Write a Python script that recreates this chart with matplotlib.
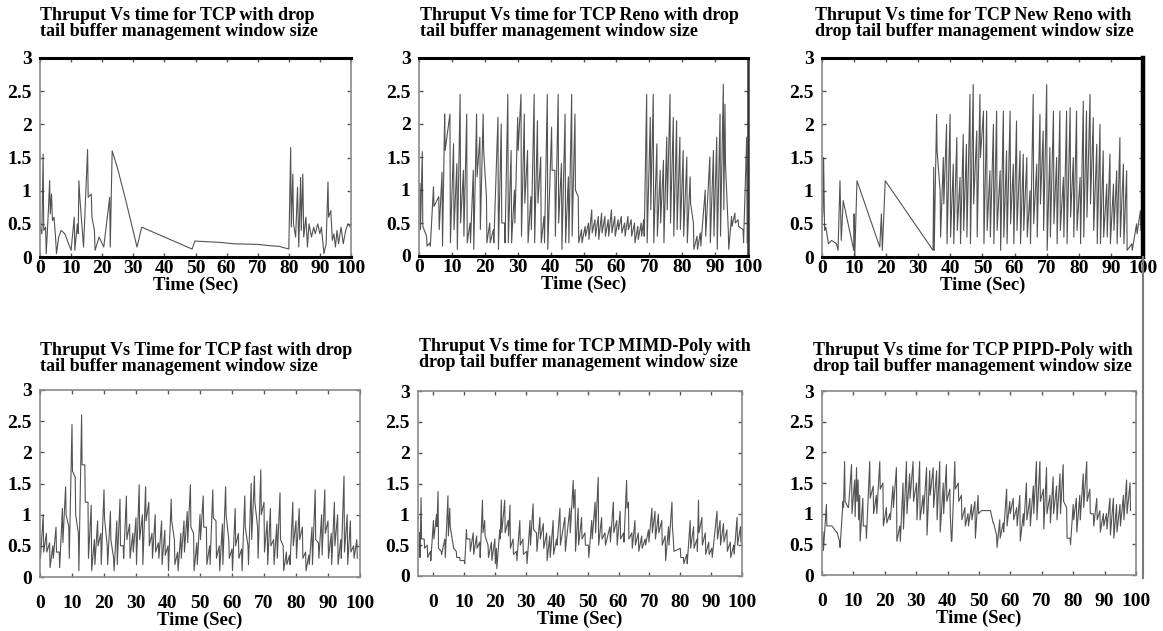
"""
Thruput vs time for six TCP variants with drop tail buffer management.

Six small line panels (2 x 3), values read off the reference figure.
"""

import matplotlib
matplotlib.use("Agg")
import matplotlib.pyplot as plt
import numpy as np
from matplotlib.lines import Line2D

W, H = 1163, 631

# ---------------------------------------------------------------- data
# TCP: sparse trace, written point by point
tcp_t = [0, 0.6, 1.0, 1.2, 1.8, 2.0, 2.6, 3.1, 3.3, 3.7, 4.0, 4.5, 5.0, 5.3, 6.0, 6.8,
         8.0, 10.0, 11.0, 11.2, 12.0, 12.3, 12.5, 12.8, 14.0, 15.3, 15.5, 16.5, 16.7,
         17.5, 17.7, 19.0, 20.5, 22.4, 22.6, 23.2, 24.8, 27.5, 31.2, 32.7, 48.9, 49.8,
         58.0, 62.0, 70.0, 74.0, 77.0, 80.0, 80.6, 80.8, 81.3, 81.5, 82.2, 82.8, 83.2,
         83.8, 84.0, 84.5, 84.8, 85.5, 86.0, 86.5, 87.3, 88.0, 88.5, 89.3, 90.0, 90.5,
         91.3, 92.0, 92.6, 92.8, 93.5, 94.0, 94.5, 95.0, 95.5, 96.0, 96.8, 97.5, 98.3,
         99.0, 99.8]
tcp_y = [0.45, 0.35, 1.55, 0.4, 0.45, 0.05, 0.6, 1.15, 0.65, 0.95, 0.55, 0.6, 0.3, 0.05,
         0.3, 0.4, 0.35, 0.1, 0.6, 0.1, 0.5, 0.35, 1.15, 0.9, 0.15, 1.62, 0.9, 0.95, 0.6,
         0.4, 0.1, 0.3, 0.15, 0.9, 0.15, 1.6, 1.36, 0.87, 0.15, 0.45, 0.12, 0.24, 0.22,
         0.2, 0.19, 0.17, 0.16, 0.12, 1.65, 0.45, 1.25, 0.5, 0.3, 1.05, 0.15, 1.2, 0.4,
         1.25, 0.3, 0.6, 0.15, 0.5, 0.3, 0.45, 0.35, 0.5, 0.35, 0.45, 0.05, 0.2, 1.13,
         0.6, 0.7, 0.25, 0.35, 0.15, 0.4, 0.2, 0.45, 0.2, 0.4, 0.5, 0.45]

# TCP Reno: spikes (time, peak, trough)
reno_t = [0.3, 1.0, 2.3, 3.3, 4.4, 6.0, 7.0, 7.8, 9.4, 10.5,
          11.5, 12.5, 13.5, 14.5, 15.5, 16.5, 17.5, 18.5, 19.5, 20.5,
          21.5, 22.6, 24.0, 25.0, 26.0, 27.0, 28.0, 29.0, 30.0, 31.0,
          32.0, 33.0, 34.0, 35.0, 36.0, 37.0, 38.0, 39.0, 40.3, 41.3,
          42.3, 43.3, 44.4, 45.4, 46.4, 47.4, 48.4, 49.4, 50.5, 51.5,
          52.5, 53.5, 54.5, 55.5, 56.5, 57.5, 58.5, 59.5, 60.5, 61.5,
          62.5, 63.5, 64.5, 65.5, 66.5, 67.5, 68.3, 69.2, 70.3, 71.2,
          72.3, 73.3, 74.3, 75.3, 76.3, 77.3, 78.3, 79.3, 80.3, 81.4,
          82.4, 83.4, 84.5, 85.5, 87.0, 88.4, 89.5, 90.5, 91.5, 92.5,
          93.0, 94.0, 95.0, 96.0, 97.0, 98.5, 99.6]
reno_hi = [1.1, 1.58, 0.3, 0.2, 1.05, 0.9, 1.27, 2.15, 2.15, 1.7,
           1.4, 2.45, 1.3, 2.15, 0.5, 1.3, 2.15, 1.8, 2.15, 0.9,
           0.5, 0.4, 2.1, 2.0, 0.5, 2.45, 1.6, 1.0, 2.1, 2.45,
           2.15, 1.6, 0.9, 2.45, 2.05, 1.5, 0.6, 2.45, 1.95, 1.3,
           2.45, 1.4, 2.15, 1.2, 2.45, 2.15, 0.9, 0.4, 0.45, 0.5,
           0.7, 0.55, 0.6, 0.65, 0.6, 0.55, 0.7, 0.6, 0.55, 0.6,
           0.5, 0.6, 0.55, 0.5, 0.45, 0.5, 0.55, 2.45, 2.1, 2.45,
           1.7, 1.3, 1.45, 1.8, 2.45, 2.1, 2.05, 1.8, 1.6, 1.5,
           1.2, 0.5, 0.3, 0.35, 1.0, 1.5, 1.6, 1.8, 2.15, 2.6,
           2.3, 0.4, 0.6, 0.65, 0.55, 0.4, 1.8]
reno_lo = [0.4, 0.45, 0.15, 0.15, 0.75, 0.4, 0.15, 1.6, 0.2, 0.4,
           0.1, 0.5, 0.3, 0.2, 0.2, 0.1, 1.2, 0.4, 1.6, 0.2,
           0.2, 0.2, 0.1, 0.5, 0.2, 0.2, 0.2, 0.5, 1.6, 0.3,
           0.8, 0.2, 0.4, 0.2, 0.8, 0.2, 0.2, 0.1, 1.3, 0.3,
           0.5, 0.1, 0.2, 0.2, 0.3, 1.0, 0.2, 0.2, 0.3, 0.25,
           0.35, 0.3, 0.25, 0.35, 0.3, 0.3, 0.35, 0.3, 0.4, 0.35,
           0.3, 0.4, 0.3, 0.2, 0.25, 0.3, 0.3, 0.2, 0.7, 0.2,
           0.3, 0.5, 0.2, 0.7, 0.5, 0.3, 0.4, 0.4, 0.3, 0.2,
           0.8, 0.1, 0.1, 0.15, 0.3, 0.2, 0.3, 0.1, 0.3, 0.7,
           1.4, 0.1, 0.45, 0.5, 0.45, 0.2, 0.2]

# TCP New Reno: slow start part point by point, then spikes
newreno_head_t = [0, 0.3, 0.5, 0.8, 1.2, 2.0, 3.0, 4.5, 5.0, 5.6, 6.0, 6.6, 9.0, 9.9,
                  10.0, 10.2, 10.9, 18.0, 18.5, 18.8, 19.7, 34.6]
newreno_head_y = [0.5, 0.7, 1.5, 0.4, 0.45, 0.2, 0.25, 0.2, 0.1, 1.15, 0.25, 0.85, 0.3,
                  0.1, 0.65, 0.0, 1.15, 0.15, 0.65, 0.1, 1.15, 0.1]
newreno_t = [34.8, 35.7, 36.8, 37.8, 38.8, 39.9, 40.9, 42.0, 43.0, 44.0,
             45.0, 46.1, 47.1, 48.2, 49.2, 50.3, 51.3, 52.3, 53.4, 54.4,
             55.5, 56.5, 57.5, 58.6, 59.6, 60.6, 61.7, 62.7, 63.8, 64.8,
             65.8, 66.9, 67.9, 68.9, 70.0, 71.0, 72.1, 73.1, 74.1, 75.2,
             76.2, 77.3, 78.3, 79.3, 80.4, 81.4, 82.4, 83.5, 84.5, 85.6,
             86.6, 87.6, 88.7, 89.7, 90.8, 91.8, 92.8, 93.9, 94.9, 96.5,
             98.0, 99.2]
newreno_hi = [1.35, 2.15, 1.0, 1.5, 2.0, 2.15, 1.4, 1.8, 1.2, 1.85,
              1.7, 2.45, 2.6, 1.9, 2.45, 2.2, 2.2, 1.3, 2.0, 2.2,
              1.3, 2.2, 1.6, 2.2, 1.4, 2.05, 1.6, 1.55, 1.5, 1.0,
              2.45, 1.4, 2.15, 1.9, 2.6, 1.65, 2.2, 1.5, 2.2, 1.2,
              2.2, 2.25, 1.5, 2.2, 1.2, 2.35, 2.2, 2.45, 2.1, 1.7,
              2.0, 1.6, 1.1, 1.55, 1.1, 1.3, 1.8, 1.4, 1.3, 0.2,
              0.5, 0.7]
newreno_lo = [0.1, 1.6, 0.3, 0.8, 0.2, 0.3, 0.2, 0.4, 0.2, 0.4,
              0.3, 0.2, 0.8, 0.3, 1.5, 0.2, 0.4, 0.3, 0.2, 0.4,
              0.1, 0.3, 0.2, 0.5, 0.2, 0.4, 0.2, 0.4, 0.3, 0.2,
              0.5, 0.3, 0.8, 0.4, 0.1, 0.3, 0.5, 0.2, 0.4, 0.3,
              0.2, 0.6, 0.3, 0.4, 0.2, 0.3, 0.6, 0.8, 0.4, 0.2,
              0.2, 0.3, 0.3, 0.2, 0.4, 0.2, 0.3, 0.2, 0.1, 0.1,
              0.35, 0.4]

# TCP fast
fast_t = [0, 1, 2, 3, 4, 5, 6, 7, 8, 9, 10, 11, 12, 13, 14, 15, 16, 17, 18, 19,
          20, 21, 22, 23, 24, 25, 26, 27, 28, 29, 30, 31, 32, 33, 34, 35, 36, 37, 38, 39,
          40, 41, 42, 43, 44, 45, 46, 47, 48, 49, 50, 51, 52, 53, 54, 55, 56, 57, 58, 59,
          60, 61, 62, 63, 64, 65, 66, 67, 68, 69, 70, 71, 72, 73, 74, 75, 76, 77, 78, 79,
          80, 81, 82, 83, 84, 85, 86, 87, 88, 89, 90, 91, 92, 93, 94, 95, 96, 97, 98, 99]
fast_hi = [0.55, 1.0, 0.7, 0.55, 0.5, 0.8, 0.4, 1.1, 1.45, 0.8,
           2.45, 1.6, 0.7, 2.6, 1.8, 1.2, 1.15, 0.6, 0.9, 0.7,
           1.4, 0.5, 1.05, 0.3, 0.9, 1.25, 0.5, 1.3, 0.85, 0.7,
           0.95, 1.48, 1.0, 1.45, 1.2, 0.7, 1.0, 0.55, 0.9, 0.75,
           0.5, 1.25, 0.6, 0.4, 0.7, 0.9, 1.05, 1.48, 0.7, 0.55,
           1.0, 1.3, 0.8, 0.5, 1.4, 0.9, 0.5, 0.85, 1.45, 0.6,
           0.45, 1.1, 0.7, 0.45, 1.3, 0.5, 1.5, 1.62, 0.8, 1.72,
           1.2, 0.9, 1.1, 0.6, 0.85, 1.35, 0.5, 0.4, 0.35, 1.2,
           0.9, 1.1, 0.8, 0.4, 0.35, 0.8, 1.4, 0.55, 1.0, 1.4,
           0.9, 0.7, 1.2, 1.0, 0.6, 1.62, 1.0, 0.9, 0.5, 0.6]
fast_lo = [0.3, 0.4, 0.4, 0.15, 0.3, 0.4, 0.15, 0.55, 1.0, 0.3,
           1.7, 1.0, 0.1, 1.8, 1.2, 0.3, 0.1, 0.2, 0.5, 0.2,
           0.95, 0.2, 0.6, 0.1, 0.2, 0.5, 0.3, 0.6, 0.3, 0.4,
           0.2, 0.6, 0.2, 0.9, 0.5, 0.3, 0.4, 0.3, 0.2, 0.35,
           0.1, 0.9, 0.2, 0.1, 0.3, 0.4, 0.55, 0.8, 0.1, 0.2,
           0.6, 0.8, 0.2, 0.2, 0.95, 0.3, 0.1, 0.2, 1.0, 0.3,
           0.1, 0.5, 0.3, 0.1, 0.8, 0.2, 0.6, 1.2, 0.3, 1.0,
           0.4, 0.2, 0.5, 0.2, 0.3, 0.6, 0.1, 0.2, 0.2, 0.5,
           0.3, 0.6, 0.3, 0.1, 0.2, 0.2, 0.6, 0.3, 0.35, 0.7,
           0.3, 0.2, 0.5, 0.2, 0.3, 0.4, 0.2, 0.4, 0.3, 0.3]

# TCP MIMD-Poly
mimd_t = [-4.5, -4.0, -3.0, -2.0, -1.0, 0.0, 1.0, 1.5, 2.5, 3.7,
          4.7, 5.3, 6.4, 7.4, 8.5, 10.0, 10.7, 11.8, 12.9, 14.0,
          15.0, 15.9, 16.6, 17.7, 18.8, 19.9, 20.4, 21.5, 22.0, 23.1,
          24.2, 24.8, 25.8, 26.9, 28.0, 29.0, 30.2, 31.3, 32.3, 33.4,
          34.5, 35.6, 36.7, 37.7, 38.8, 39.9, 41.0, 42.6, 44.2, 45.3,
          45.9, 46.9, 48.0, 49.1, 50.2, 51.3, 52.4, 53.4, 54.5, 55.6,
          57.2, 58.3, 59.4, 60.5, 61.6, 62.6, 63.2, 64.3, 65.3, 66.4,
          67.5, 68.6, 69.7, 70.8, 71.8, 72.9, 74.0, 75.1, 76.2, 77.3,
          77.8, 80.0, 81.0, 82.1, 83.2, 84.3, 85.4, 85.9, 87.0, 88.1,
          89.2, 90.2, 91.9, 92.9, 94.0, 95.1, 96.2, 97.3, 98.4, 99.5]
mimd_hi = [0.7, 1.27, 0.6, 0.5, 0.4, 0.9, 1.0, 1.37, 0.4, 0.6,
           1.3, 1.1, 0.5, 0.4, 0.3, 0.25, 0.75, 0.6, 0.7, 0.65,
           0.55, 1.23, 0.9, 0.5, 0.55, 0.6, 0.45, 0.75, 1.23, 1.23,
           0.9, 1.15, 0.6, 0.4, 0.9, 0.6, 0.4, 0.9, 1.17, 0.7,
           0.95, 0.85, 0.7, 0.65, 0.9, 0.6, 1.1, 0.95, 1.1, 1.55,
           1.4, 1.1, 0.95, 0.7, 0.5, 0.9, 1.2, 1.6, 0.95, 0.7,
           0.8, 1.2, 0.9, 1.05, 0.7, 1.55, 1.2, 0.7, 0.9, 0.7,
           0.65, 0.6, 0.75, 1.1, 1.05, 1.0, 0.9, 0.65, 0.8, 1.2,
           0.55, 0.45, 0.3, 0.35, 0.9, 0.8, 0.6, 1.23, 0.95, 0.7,
           0.55, 0.45, 1.05, 0.9, 0.85, 0.75, 0.55, 0.5, 0.95, 0.8]
mimd_lo = [0.3, 0.6, 0.45, 0.3, 0.25, 0.6, 0.8, 0.45, 0.35, 0.3,
           0.65, 0.8, 0.45, 0.3, 0.25, 0.2, 0.6, 0.4, 0.35, 0.45,
           0.3, 0.7, 0.65, 0.3, 0.25, 0.2, 0.12, 0.6, 0.7, 0.7,
           0.65, 0.45, 0.35, 0.25, 0.5, 0.35, 0.2, 0.5, 0.75, 0.4,
           0.6, 0.45, 0.25, 0.3, 0.35, 0.5, 0.5, 0.4, 0.7, 1.1,
           0.4, 0.5, 0.6, 0.5, 0.3, 0.6, 0.7, 0.5, 0.6, 0.5,
           0.55, 0.7, 0.5, 0.6, 0.55, 1.1, 0.6, 0.45, 0.5, 0.4,
           0.45, 0.5, 0.55, 0.7, 0.6, 0.7, 0.5, 0.25, 0.5, 0.8,
           0.4, 0.3, 0.2, 0.2, 0.45, 0.45, 0.4, 0.7, 0.5, 0.35,
           0.35, 0.3, 0.6, 0.5, 0.55, 0.4, 0.3, 0.35, 0.5, 0.55]

# TCP PIPD-Poly
pipd_t = [0.3, 1.4, 2.0, 3.0, 4.6, 5.6, 6.7, 7.2, 8.3, 9.4,
          10.4, 11.0, 11.5, 12.0, 13.0, 14.0, 15.2, 16.3, 17.3, 18.4,
          19.4, 20.5, 21.6, 22.6, 23.7, 24.8, 25.8, 26.9, 27.9, 29.0,
          30.1, 31.1, 32.2, 33.3, 34.3, 35.4, 36.5, 37.5, 38.6, 39.6,
          40.7, 41.2, 42.3, 43.4, 44.4, 45.5, 46.5, 47.6, 48.7, 49.7,
          50.8, 53.5, 54.5, 55.6, 56.6, 57.7, 58.8, 59.8, 60.9, 62.0,
          63.0, 64.1, 65.1, 66.2, 67.3, 68.3, 69.4, 70.5, 71.5, 72.6,
          73.6, 74.7, 75.8, 76.8, 77.9, 79.0, 80.0, 81.0, 82.1, 83.2,
          84.3, 85.3, 86.4, 87.5, 88.5, 89.6, 90.6, 91.7, 92.8, 93.8,
          94.9, 96.0, 97.0, 98.1]
pipd_hi = [0.7, 1.15, 0.8, 0.8, 0.7, 0.55, 1.2, 1.85, 1.1, 1.8,
           1.55, 1.75, 1.55, 1.3, 1.25, 0.8, 1.85, 1.45, 1.3, 1.85,
           1.5, 1.1, 1.0, 1.45, 1.75, 0.8, 1.5, 1.85, 1.65, 1.85,
           1.5, 1.85, 1.3, 1.75, 1.7, 1.75, 1.7, 1.85, 1.5, 1.8,
           1.4, 0.55, 1.85, 1.5, 1.3, 1.1, 1.0, 1.15, 1.2, 1.3,
           1.05, 1.05, 0.85, 0.65, 0.9, 0.85, 1.4, 1.2, 1.25, 1.1,
           1.3, 1.0, 1.5, 1.25, 1.45, 1.85, 1.85, 1.4, 1.75, 1.3,
           1.6, 1.45, 1.65, 1.8, 1.1, 0.6, 1.15, 1.25, 1.3, 1.65,
           1.85, 1.4, 1.0, 1.25, 1.05, 1.0, 1.0, 1.25, 1.25, 1.15,
           1.15, 1.3, 1.55, 1.5]
pipd_lo = [0.4, 0.8, 0.8, 0.8, 0.7, 0.45, 1.1, 1.2, 1.1, 1.0,
           0.95, 1.2, 0.9, 0.55, 0.8, 0.6, 1.25, 1.0, 1.0, 1.4,
           0.8, 0.85, 0.9, 1.1, 0.55, 0.55, 0.75, 1.0, 1.25, 1.2,
           0.9, 0.9, 1.0, 0.65, 1.3, 1.1, 0.9, 0.7, 1.0, 1.2,
           1.0, 0.55, 1.4, 1.2, 0.9, 0.8, 0.8, 0.9, 0.6, 1.0,
           1.05, 1.05, 0.85, 0.45, 0.6, 0.7, 0.8, 1.0, 0.9, 0.8,
           0.55, 0.8, 0.9, 0.8, 1.0, 0.9, 1.2, 0.75, 1.0, 0.85,
           1.0, 0.9, 1.0, 1.2, 0.6, 0.5, 0.9, 0.7, 0.9, 1.1,
           1.2, 1.0, 0.8, 0.9, 0.7, 0.8, 0.75, 0.65, 0.6, 0.7,
           0.8, 0.9, 1.0, 1.05]

TITLES = [
    "Thruput Vs time for TCP with drop\ntail buffer management window size",
    "Thruput Vs time for TCP Reno with drop\ntail buffer management window size",
    "Thruput Vs time for TCP New Reno with\ndrop tail buffer management window size",
    "Thruput Vs Time for TCP fast with drop\ntail buffer management window size",
    "Thruput Vs time for TCP MIMD-Poly with\ndrop tail buffer management window size",
    "Thruput Vs time for TCP PIPD-Poly with\ndrop tail buffer management window size",
]
Y_TICKS = [0, 0.5, 1, 1.5, 2, 2.5, 3]
Y_TICK_LABELS = ["0", "0.5", "1", "1.5", "2", "2.5", "3"]
X_TICKS = [0, 10, 20, 30, 40, 50, 60, 70, 80, 90, 100]

# ---------------------------------------------------------------- layout (pixels)
# left, right, top, bottom of each plot box, title anchor x / top y, xlim lower bound
PANELS = [
    dict(box=(40, 351, 58, 257), title=(40, 7), xmin=0, row=0),
    dict(box=(419, 748, 58, 256), title=(420, 7), xmin=0, row=0),
    dict(box=(822, 1143, 58, 257), title=(815, 7), xmin=0, row=0),
    dict(box=(40, 360, 390, 577), title=(40, 342), xmin=0, row=1),
    dict(box=(418, 742, 391, 576), title=(419, 338), xmin=-5, row=1),
    dict(box=(822, 1136, 391, 575), title=(813, 342), xmin=0, row=1),
]

LINE_COLOR = "#404040"
SPINE_GRAY = "#8a8a8a"
FONT = "Liberation Serif"

plt.rcParams["font.family"] = [FONT, "DejaVu Serif"]
plt.rcParams["font.weight"] = "bold"


def spikes(t, hi, lo, dt=0.15):
    """Zigzag trace: each spike drawn from its peak down to its trough."""
    t = np.asarray(t, dtype=float)
    xs = np.column_stack([t, t + dt]).ravel()
    ys = np.column_stack([hi, lo]).ravel()
    return xs, ys


def px_rect(box):
    left, right, top, bottom = box
    return [left / W, 1 - bottom / H, (right - left) / W, (bottom - top) / H]


def style_axes(ax, cfg, idx):
    ax.set_xlim(cfg["xmin"], 100)
    ax.set_ylim(0, 3)
    ax.set_yticks(Y_TICKS)
    ax.set_yticklabels(Y_TICK_LABELS)
    ax.set_xticks(X_TICKS)
    ax.set_xticklabels([str(v) for v in X_TICKS])
    top_row = cfg["row"] == 0
    ax.tick_params(direction="in", top=True, right=True, length=3, width=1,
                   color="#555555", labelsize=14)
    ax.tick_params(axis="x", pad=2 if top_row else 13)
    ax.tick_params(axis="y", pad=6)
    for lab in ax.get_xticklabels() + ax.get_yticklabels():
        lab.set_fontweight("bold")
    ax.set_xlabel("Time (Sec)", fontsize=13.5, fontweight="bold", labelpad=0)

    for name, sp in ax.spines.items():
        sp.set_color(SPINE_GRAY)
        sp.set_linewidth(1.2)
    if top_row:
        for name in ("top", "bottom"):
            ax.spines[name].set_color("black")
            ax.spines[name].set_linewidth(2.2)
        if idx == 1:
            ax.spines["right"].set_color("#333333")
            ax.spines["right"].set_linewidth(1.8)
        if idx == 2:
            ax.spines["right"].set_color("black")
            ax.spines["right"].set_linewidth(3.2)


def main():
    fig = plt.figure(figsize=(W / 100, H / 100), dpi=100)
    fig.patch.set_facecolor("white")

    nr_x, nr_y = spikes(newreno_t, newreno_hi, newreno_lo)
    traces = [
        (tcp_t, tcp_y),
        spikes(reno_t, reno_hi, reno_lo),
        (np.concatenate([newreno_head_t, nr_x]), np.concatenate([newreno_head_y, nr_y])),
        spikes(fast_t, fast_hi, fast_lo),
        spikes(mimd_t, mimd_hi, mimd_lo),
        spikes(pipd_t, pipd_hi, pipd_lo),
    ]

    for idx, (cfg, (xs, ys), title) in enumerate(zip(PANELS, traces, TITLES)):
        ax = fig.add_axes(px_rect(cfg["box"]))
        ax.plot(xs, ys, color=LINE_COLOR, linewidth=0.8, alpha=0.9)
        style_axes(ax, cfg, idx)
        tx, ty = cfg["title"]
        fig.text(tx / W, 1 - ty / H, title, ha="left", va="top",
                 fontsize=13, fontweight="bold", linespacing=0.92)

    # stray vertical rule running down from the New Reno panel's right edge
    fig.add_artist(Line2D([1143 / W, 1143 / W], [1 - 257 / H, 1 - 578 / H],
                          transform=fig.transFigure, color="#7a7a7a", linewidth=1.5))

    fig.savefig("out.png", dpi=100, facecolor="white")


if __name__ == "__main__":
    main()
